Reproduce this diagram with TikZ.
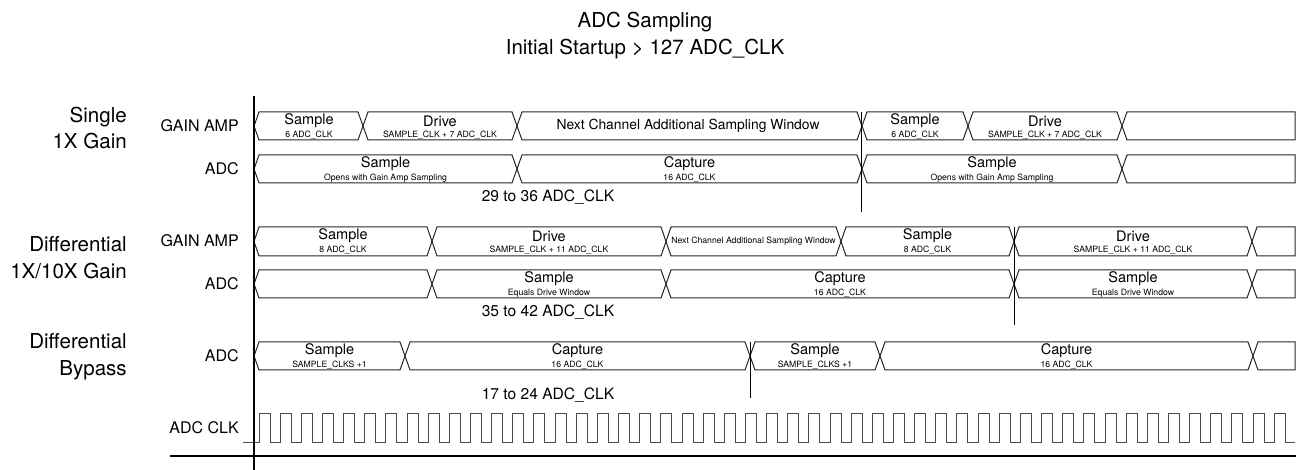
\documentclass[tikz,border=0pt]{standalone}
\usepackage{fontspec}
\setmainfont{TeX Gyre Heros}
\newcommand{\busseg}[4]{\draw[bus] (#1,{(#3+#4)/2}) -- ({#1+5},#3) -- ({#2-5},#3) -- (#2,{(#3+#4)/2}) -- ({#2-5},#4) -- ({#1+5},#4) -- cycle;}
\newcommand{\buslast}[4]{\draw[bus] (#1,{(#3+#4)/2}) -- ({#1+5},#3) -- (#2,#3) -- (#2,#4) -- ({#1+5},#4) -- cycle;}
\newcommand{\buslbl}[5]{\node[bt] (#1t) at (#2,{#3+9}) {#4};\node[bs] (#1s) at (#2,{#3+23}) {#5};}
\begin{document}
\begin{tikzpicture}[x=0.75pt,y=-0.75pt,
  bus/.style={draw=black!85,line width=0.75pt,line join=miter},
  axisline/.style={line width=2pt,black},
  marker/.style={line width=0.75pt,black},
  clk/.style={draw=black!70,line width=0.75pt},
  ttl/.style={font=\fontsize{15.4}{18}\selectfont,inner sep=0pt},
  grp/.style={font=\fontsize{15.4}{20}\selectfont,align=right,anchor=east,inner sep=0pt},
  sig/.style={font=\fontsize{12}{14}\selectfont,anchor=east,inner sep=0pt},
  bt/.style={font=\fontsize{10.9}{12}\selectfont,inner sep=0pt},
  bs/.style={font=\fontsize{6.5}{7}\selectfont,inner sep=0pt},
  dur/.style={font=\fontsize{11.7}{14}\selectfont,inner sep=0pt},
]
\useasboundingbox (0,0) rectangle (1297,470);

% titles
\node[ttl] (t1) at (645,22) {ADC Sampling};
\node[ttl] (t2) at (645,49) {Initial Startup > 127 ADC\_CLK};

% group labels
\node[grp] (g1) at (127,128) {Single\\1X Gain};
\node[grp] (g2) at (127,258) {Differential\\1X/10X Gain};
\node[grp] (g3) at (127,357) {Differential\\Bypass};

% signal labels
\node[sig] (s1) at (239,126) {GAIN AMP};
\node[sig] (s2) at (239,169) {ADC};
\node[sig] (s3) at (239,241) {GAIN AMP};
\node[sig] (s4) at (239,284) {ADC};
\node[sig] (s5) at (239,356) {ADC};
\node[sig] (s6) at (239,428) {ADC CLK};

% Row 1 GAIN AMP
\busseg{254}{363}{112}{140}
\busseg{363}{517}{112}{140}
\busseg{517}{862}{112}{140}
\busseg{862}{968}{112}{140}
\busseg{968}{1122}{112}{140}
\buslast{1122}{1295}{112}{140}
\buslbl{a1}{309}{112}{Sample}{6 ADC\_CLK}
\buslbl{a2}{440}{112}{Drive}{SAMPLE\_CLK + 7 ADC\_CLK}
\node[font=\fontsize{10.4}{12}\selectfont,inner sep=0pt] (a3) at (688,126) {Next Channel Additional Sampling Window};
\buslbl{a4}{915}{112}{Sample}{6 ADC\_CLK}
\buslbl{a5}{1045}{112}{Drive}{SAMPLE\_CLK + 7 ADC\_CLK}

% Row 1 ADC
\busseg{254}{517}{155}{183}
\busseg{517}{862}{155}{183}
\busseg{862}{1122}{155}{183}
\buslast{1122}{1295}{155}{183}
\buslbl{b1}{385.5}{155}{Sample}{Opens with Gain Amp Sampling}
\buslbl{b2}{689.5}{155}{Capture}{16 ADC\_CLK}
\buslbl{b3}{992}{155}{Sample}{Opens with Gain Amp Sampling}

\node[dur] (d1) at (548,197) {29 to 36 ADC\_CLK};
\coordinate (m1a) at (861,112);
\coordinate (m1b) at (861,212);
\draw[marker] (m1a) -- (m1b);

% Row 2 GAIN AMP
\busseg{254}{432}{227}{256}
\busseg{432}{666}{227}{256}
\busseg{666}{841}{227}{256}
\busseg{841}{1014}{227}{256}
\busseg{1014}{1252}{227}{256}
\buslast{1252}{1295}{227}{256}
\buslbl{c1}{343}{227}{Sample}{8 ADC\_CLK}
\buslbl{c2}{549}{227}{Drive}{SAMPLE\_CLK + 11 ADC\_CLK}
\node[font=\fontsize{6.5}{7}\selectfont,inner sep=0pt] (c3) at (753.5,241.5) {Next Channel Additional Sampling Window};
\buslbl{c4}{927.5}{227}{Sample}{8 ADC\_CLK}
\buslbl{c5}{1133}{227}{Drive}{SAMPLE\_CLK + 11 ADC\_CLK}

% Row 2 ADC
\busseg{254}{432}{270}{298}
\busseg{432}{666}{270}{298}
\busseg{666}{1014}{270}{298}
\busseg{1014}{1252}{270}{298}
\buslast{1252}{1295}{270}{298}
\buslbl{e1}{549}{270}{Sample}{Equals Drive Window}
\buslbl{e2}{840}{270}{Capture}{16 ADC\_CLK}
\buslbl{e3}{1133}{270}{Sample}{Equals Drive Window}

\node[dur] (d2) at (548,312) {35 to 42 ADC\_CLK};
\coordinate (m2a) at (1014,227);
\coordinate (m2b) at (1014,325);
\draw[marker] (m2a) -- (m2b);

% Row 3 ADC bypass
\busseg{254}{405}{342}{370}
\busseg{405}{750}{342}{370}
\busseg{750}{880}{342}{370}
\busseg{880}{1253}{342}{370}
\buslast{1253}{1295}{342}{370}
\buslbl{f1}{329.5}{342}{Sample}{SAMPLE\_CLKS +1}
\buslbl{f2}{577.5}{342}{Capture}{16 ADC\_CLK}
\buslbl{f3}{815}{342}{Sample}{SAMPLE\_CLKS +1}
\buslbl{f4}{1066.5}{342}{Capture}{16 ADC\_CLK}

\node[dur] (d3) at (548,395) {17 to 24 ADC\_CLK};
\coordinate (m3a) at (750,342);
\coordinate (m3b) at (750,398);
\draw[marker] (m3a) -- (m3b);

% clock
\draw[clk] (243,443) foreach \i in {0,...,48} { -- ({259+\i*21.15},443) -- ({259+\i*21.15},414) -- ({270+\i*21.15},414) -- ({270+\i*21.15},443) } -- (1295,443);

% axes
\coordinate (ax1) at (254,96);
\coordinate (ax2) at (254,470);
\coordinate (bl1) at (170,456);
\coordinate (bl2) at (1296,456);
\draw[axisline] (ax1) -- (ax2);
\draw[axisline] (bl1) -- (bl2);
\end{tikzpicture}
\end{document}
